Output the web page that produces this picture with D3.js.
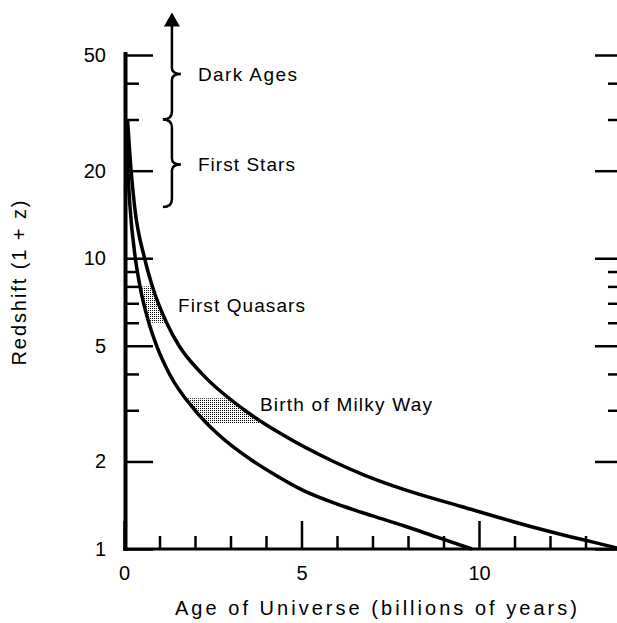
<!DOCTYPE html>
<html>
<head>
<meta charset="utf-8">
<script src="https://d3js.org/d3.v7.min.js"></script>
<style>
    body { margin: 0; background: #fff; }
    text { font-family: "Liberation Sans", Arial, sans-serif; fill: #000; }
</style>
</head>
<body>
<script>

// values: age (Gyr) against redshift (1 + z)
var upperAge = [0.1, 0.2, 0.3, 0.58, 0.8, 1.2, 1.55, 2.2, 3.4, 4.4, 5.9, 6.75, 7.9, 9.5, 11.4, 12.6, 13.3, 14.0];
var upperZ   = [30, 20, 15, 10, 8, 6, 5, 4, 3, 2.5, 2, 1.8, 1.6, 1.4, 1.2, 1.1, 1.05, 1.0];

var lowerAge = [0.06, 0.11, 0.17, 0.32, 0.45, 0.7, 0.92, 1.28, 2.0, 2.62, 3.65, 4.25, 5.0, 6.2, 7.0, 7.9, 8.8, 9.8];
var lowerZ   = [30, 20, 15, 10, 8, 6, 5, 4, 3, 2.5, 2, 1.8, 1.6, 1.4, 1.3, 1.2, 1.1, 1.0];

// axis ticks
var yMajor = [1, 2, 5, 10, 20, 50];
var yMinor = [3, 4, 6, 7, 8, 9, 30, 40];
var xMajor = [0, 5, 10];
var xMinor = [1, 2, 3, 4, 6, 7, 8, 9, 11, 12, 13];

// braces on the left (1 + z ranges)
var epochNames = ["Dark Ages", "First Stars"];
var epochSpan  = [[30, 70], [15, 30]];
var epochMid   = [43, 21];

// shaded bands between the two curves
var bandNames   = ["First Quasars", "Birth of Milky Way"];
var bandSpan    = [[6, 8], [2.7, 3.3]];
var bandLabelAt = [[1.52, 6.9], [3.83, 3.15]];

var width = 617, height = 623;

var svg = d3.select("body").append("svg")
    .attr("width", width)
    .attr("height", height);

svg.append("rect").attr("width", width).attr("height", height).attr("fill", "#fff");

var x = d3.scaleLinear().domain([0, 14]).range([124, 621]);
var y = d3.scaleLog().domain([1, 50]).range([549, 55]);

var defs = svg.append("defs");
defs.append("pattern")
    .attr("id", "dots")
    .attr("patternUnits", "userSpaceOnUse")
    .attr("width", 2)
    .attr("height", 2)
  .append("rect")
    .attr("width", 1)
    .attr("height", 1)
    .attr("fill", "#000");

var line = d3.line()
    .x(function(d) { return x(d[0]); })
    .y(function(d) { return y(d[1]); })
    .curve(d3.curveMonotoneX);

var upper = d3.zip(upperAge, upperZ),
    lower = d3.zip(lowerAge, lowerZ);

// region between the curves, clipped into horizontal bands
var between = line(lower) + "L" + line(upper.slice().reverse()).slice(1) + "Z";

bandSpan.forEach(function(s, i) {
    defs.append("clipPath").attr("id", "band" + i)
      .append("rect")
        .attr("x", x(0))
        .attr("width", x(14) - x(0))
        .attr("y", y(s[1]))
        .attr("height", y(s[0]) - y(s[1]));

    svg.append("path")
        .attr("d", between)
        .attr("fill", "url(#dots)")
        .attr("clip-path", "url(#band" + i + ")");
});

// the two curves
[upper, lower].forEach(function(d) {
    svg.append("path")
        .datum(d)
        .attr("d", line)
        .attr("fill", "none")
        .attr("stroke", "#000")
        .attr("stroke-width", 3.5);
});

// axes
function styleAxis(g) {
    g.select(".domain").remove();
    g.selectAll(".tick line").attr("stroke", "#000").attr("stroke-width", 2.5);
    g.selectAll(".tick text").style("font-size", "20px");
}

svg.append("g")
    .attr("transform", "translate(125,0)")
    .call(d3.axisLeft(y).tickValues(yMajor).tickSize(-28).tickPadding(19).tickFormat(d3.format("d")))
    .call(styleAxis);

svg.append("g")
    .attr("transform", "translate(125,0)")
    .call(d3.axisLeft(y).tickValues(yMinor).tickSize(-14).tickFormat(""))
    .call(styleAxis);

svg.append("g")
    .attr("transform", "translate(621,0)")
    .call(d3.axisRight(y).tickValues(yMajor).tickSize(-26).tickFormat(""))
    .call(styleAxis);

svg.append("g")
    .attr("transform", "translate(621,0)")
    .call(d3.axisRight(y).tickValues(yMinor).tickSize(-13).tickFormat(""))
    .call(styleAxis);

svg.append("g")
    .attr("transform", "translate(0,549)")
    .call(d3.axisBottom(x).tickValues(xMajor).tickSize(-28).tickPadding(17).tickFormat(d3.format("d")))
    .call(styleAxis);

svg.append("g")
    .attr("transform", "translate(0,549)")
    .call(d3.axisBottom(x).tickValues(xMinor).tickSize(-13).tickFormat(""))
    .call(styleAxis);

svg.append("line")
    .attr("x1", 125.5).attr("x2", 125.5)
    .attr("y1", y(50) - 3).attr("y2", 551)
    .attr("stroke", "#000").attr("stroke-width", 4);

svg.append("line")
    .attr("x1", 123).attr("x2", 621)
    .attr("y1", 549).attr("y2", 549)
    .attr("stroke", "#000").attr("stroke-width", 3);

// braces
var bx = x(1.35);
var epochTextLen = [99, 97];
epochSpan.forEach(function(s, i) {
    var yLo = y(s[0]), yHi = y(s[1]), yM = y(epochMid[i]);
    var p = d3.path();
    if (i == 0) {
        p.moveTo(bx, yHi + 10);
    } else {
        p.moveTo(bx - 9, yHi);
        p.quadraticCurveTo(bx, yHi, bx, yHi + 8);
    }
    p.lineTo(bx, yM - 6);
    p.quadraticCurveTo(bx, yM, bx + 9, yM);
    p.quadraticCurveTo(bx, yM, bx, yM + 6);
    p.lineTo(bx, yLo - 8);
    p.quadraticCurveTo(bx, yLo, bx - 9, yLo);

    svg.append("path")
        .attr("d", p.toString())
        .attr("fill", "none")
        .attr("stroke", "#000")
        .attr("stroke-width", 2.5);

    if (i == 0) {
        svg.append("path")
            .attr("d", "M" + bx + "," + yHi + "L" + (bx - 8) + "," + (yHi + 14) + "L" + (bx + 8) + "," + (yHi + 14) + "Z")
            .attr("fill", "#000");
    }

    svg.append("text")
        .attr("x", bx + 26)
        .attr("y", yM)
        .attr("dy", "0.35em")
        .attr("textLength", epochTextLen[i])
        .attr("lengthAdjust", "spacing")
        .style("font-size", "19px")
        .text(epochNames[i]);
});

// band labels
var bandTextLen = [127, 172];
bandNames.forEach(function(name, i) {
    svg.append("text")
        .attr("x", x(bandLabelAt[i][0]))
        .attr("y", y(bandLabelAt[i][1]))
        .attr("dy", "0.35em")
        .attr("textLength", bandTextLen[i])
        .attr("lengthAdjust", "spacing")
        .style("font-size", "19px")
        .text(name);
});

// axis titles
svg.append("text")
    .attr("x", 376)
    .attr("y", 615)
    .attr("text-anchor", "middle")
    .attr("textLength", 402)
    .attr("lengthAdjust", "spacing")
    .style("font-size", "20px")
    .text("Age of Universe (billions of years)");

svg.append("text")
    .attr("transform", "translate(26,283) rotate(-90)")
    .attr("text-anchor", "middle")
    .attr("textLength", 165)
    .attr("lengthAdjust", "spacing")
    .style("font-size", "20px")
    .text("Redshift (1 + z)");

</script>
</body>
</html>
